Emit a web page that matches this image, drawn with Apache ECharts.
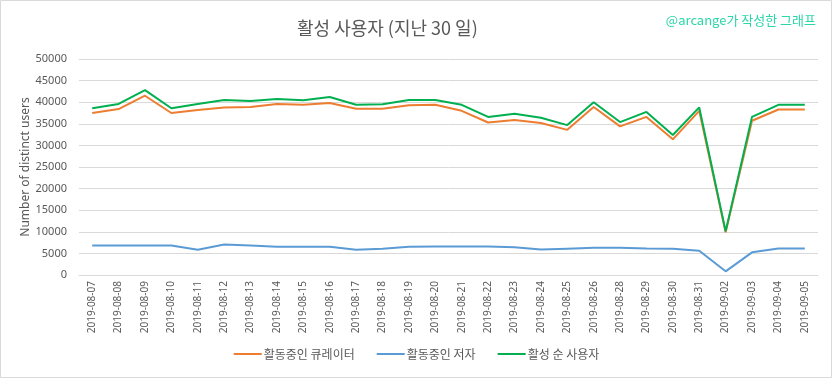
<!DOCTYPE html>
<html>
<head>
<meta charset="utf-8">
<script src="https://cdn.jsdelivr.net/npm/echarts@6/dist/echarts.min.js"></script>
<style>
html,body{margin:0;padding:0;background:#fff;}
#chart{width:833px;height:379px;}
</style>
</head>
<body>
<div id="chart"></div>
<script>
const categories = ['2019-08-07','2019-08-08','2019-08-09','2019-08-10','2019-08-11','2019-08-12','2019-08-13','2019-08-14','2019-08-15','2019-08-16','2019-08-17','2019-08-18','2019-08-19','2019-08-20','2019-08-21','2019-08-22','2019-08-23','2019-08-24','2019-08-25','2019-08-26','2019-08-28','2019-08-29','2019-08-30','2019-08-31','2019-09-02','2019-09-03','2019-09-04','2019-09-05'];
const curators = [37500,38400,41500,37500,38200,38800,38900,39600,39400,39800,38500,38500,39300,39400,38000,35300,35900,35200,33600,38900,34400,36600,31400,38000,9900,35700,38300,38300];
const authors = [6850,6850,6850,6850,5850,7050,6800,6550,6550,6550,5850,6100,6550,6600,6600,6600,6400,5900,6100,6300,6300,6150,6100,5600,850,5250,6150,6150];
const activeUsers = [38600,39600,42800,38600,39600,40500,40300,40750,40450,41200,39400,39500,40500,40500,39400,36600,37300,36400,34700,40000,35400,37750,32400,38800,10100,36600,39400,39400];
const seriesNames = ['활동중인 큐레이터','활동중인 저자','활성 순 사용자'];
const yTicks = {min:0, max:50000, interval:5000};

const font = '"Noto Sans", "Noto Sans CJK KR", sans-serif';
const chart = echarts.init(document.getElementById('chart'));
chart.setOption({
  animation:false,
  textStyle:{fontFamily:font},
  title:[
    {text:'활성 사용자 (지난 30 일)', left:292, top:14,
     textStyle:{fontSize:18, fontWeight:'normal', color:'#595959', fontFamily:'"Noto Sans CJK KR", sans-serif'}},
    {text:'@arcange가 작성한 그래프', right:12, top:9,
     textStyle:{fontSize:13, fontWeight:'normal', color:'#2bd6a8', fontFamily:'"Noto Sans CJK KR", sans-serif'}}
  ],
  graphic:[{type:'rect', shape:{x:0.5,y:0.5,width:831,height:377}, style:{fill:'none', stroke:'#d9d9d9', lineWidth:1}, silent:true}],
  legend:{
    bottom:14, left:'center', icon:'rect', itemWidth:28, itemHeight:2, itemGap:22,
    textStyle:{fontSize:12, color:'#595959', fontFamily:'"Noto Sans CJK KR", sans-serif', padding:[0,0,0,-3]},
    data:seriesNames
  },
  grid:{left:79, right:15, top:59, bottom:104},
  xAxis:{
    type:'category', data:categories, boundaryGap:true,
    axisLine:{lineStyle:{color:'#d9d9d9'}}, axisTick:{show:false},
    axisLabel:{rotate:90, fontSize:10, color:'#595959', margin:6, interval:0}
  },
  yAxis:{
    type:'value', min:yTicks.min, max:yTicks.max, interval:yTicks.interval,
    name:'Number of distinct users', nameLocation:'middle', nameGap:47, nameRotate:90,
    nameMoveOverlap:false,
    nameTextStyle:{fontSize:12, color:'#595959'},
    axisLine:{show:false}, axisTick:{show:false},
    axisLabel:{fontSize:11, color:'#595959', margin:12, formatter:function(v){return String(v);}},
    splitLine:{lineStyle:{color:'#d9d9d9'}}
  },
  series:[
    {name:seriesNames[0], type:'line', data:curators, symbol:'none', lineStyle:{width:2, color:'#ED7D31'}, itemStyle:{color:'#ED7D31'}},
    {name:seriesNames[1], type:'line', data:authors, symbol:'none', lineStyle:{width:2, color:'#5B9BD5'}, itemStyle:{color:'#5B9BD5'}},
    {name:seriesNames[2], type:'line', data:activeUsers, symbol:'none', lineStyle:{width:2, color:'#00B050'}, itemStyle:{color:'#00B050'}}
  ]
});
</script>
</body>
</html>
